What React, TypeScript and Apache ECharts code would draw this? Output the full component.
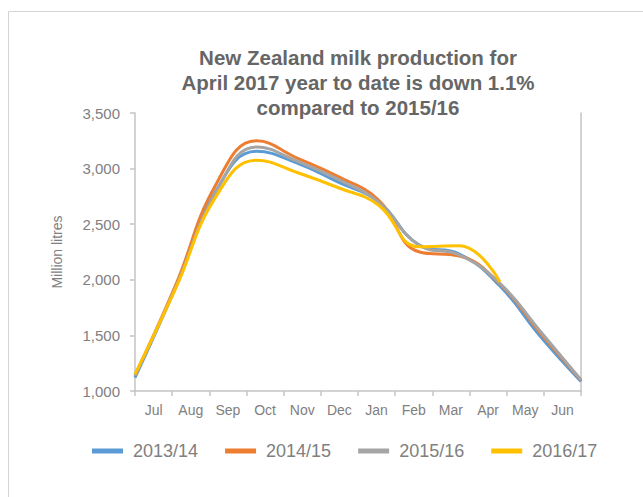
import React, { useEffect, useRef } from "react";
import * as echarts from "echarts";

const months = ["Jul", "Aug", "Sep", "Oct", "Nov", "Dec", "Jan", "Feb", "Mar", "Apr", "May", "Jun"];
const s2013 = [1120, 1930, 2800, 3155, 3050, 2880, 2705, 2315, 2232, 1944, 1490, 1085];
const s2014 = [1140, 1950, 2860, 3250, 3095, 2930, 2720, 2252, 2214, 1962, 1520, 1100];
const s2015 = [1140, 1930, 2790, 3195, 3068, 2905, 2700, 2313, 2223, 1968, 1535, 1100];
const s2016 = [1150, 1920, 2750, 3075, 2965, 2830, 2673, 2298, 2306, 1983];
const seriesNames = ["2013/14", "2014/15", "2015/16", "2016/17"];
const colors = ["#5B9BD5", "#ED7D31", "#A5A5A5", "#FFC000"];
const yTicks = { min: 1000, max: 3500, interval: 500 };
const titleLines = [
  "New Zealand milk production for",
  "April 2017 year to date is down 1.1%",
  "compared to 2015/16",
];

const FONT = "'Liberation Sans', Arial, Helvetica, sans-serif";
const AXIS_COLOR = "#c4c4c4";
const TEXT_COLOR = "#808080";

export default function App() {
  const ref = useRef<HTMLDivElement>(null);
  useEffect(() => {
    if (!ref.current) return;
    const chart = echarts.init(ref.current, null, { renderer: "svg" });
    const data = [s2013, s2014, s2015, s2016];
    chart.setOption({
      animation: false,
      color: colors,
      textStyle: { fontFamily: FONT },
      title: {
        text: titleLines.join("\n"),
        left: 358,
        top: 45,
        textAlign: "center",
        padding: 0,
        textStyle: {
          fontFamily: FONT,
          fontSize: 20.5,
          fontWeight: "bold",
          color: "#666666",
          lineHeight: 25,
        },
      },
      graphic: [
        {
          type: "rect",
          shape: { x: 8.5, y: 11.5, width: 700, height: 600 },
          style: { fill: "none", stroke: "#d4d4d4", lineWidth: 1 },
          silent: true,
          z: -10,
        },
      ],
      legend: {
        left: 92,
        top: 442,
        icon: "rect",
        itemWidth: 31,
        itemHeight: 5,
        itemGap: 27,
        padding: 0,
        data: seriesNames,
        textStyle: {
          fontFamily: FONT,
          fontSize: 18,
          color: TEXT_COLOR,
          padding: [0, 0, 0, 5],
        },
      },
      grid: { left: 135, right: 62, top: 113, bottom: 106, containLabel: false },
      xAxis: [
        {
          type: "category",
          data: months,
          boundaryGap: true,
          axisLine: { show: true, lineStyle: { color: AXIS_COLOR, width: 1.5 } },
          axisTick: { show: true, length: 5, lineStyle: { color: AXIS_COLOR, width: 1.5 } },
          axisLabel: { fontFamily: FONT, fontSize: 14, color: TEXT_COLOR, margin: 12 },
          splitLine: { show: false },
        },
        {
          type: "category",
          data: months,
          boundaryGap: false,
          show: false,
        },
      ],
      yAxis: [
        {
          type: "value",
          min: yTicks.min,
          max: yTicks.max,
          interval: yTicks.interval,
          name: "Million litres",
          nameLocation: "middle",
          nameGap: 71,
          nameTextStyle: { fontFamily: FONT, fontSize: 14, color: TEXT_COLOR },
          axisLine: { show: true, lineStyle: { color: AXIS_COLOR, width: 1.5 } },
          axisTick: { show: true, length: 5, lineStyle: { color: AXIS_COLOR, width: 1.5 } },
          axisLabel: {
            fontFamily: FONT,
            fontSize: 15,
            color: TEXT_COLOR,
            margin: 15,
            formatter: (v: number) => v.toLocaleString("en-US"),
          },
          splitLine: { show: false },
        },
        {
          type: "value",
          position: "right",
          min: yTicks.min,
          max: yTicks.max,
          interval: yTicks.interval,
          axisLine: { show: true, lineStyle: { color: AXIS_COLOR, width: 1.5 } },
          axisTick: { show: false },
          axisLabel: { show: false },
          splitLine: { show: false },
        },
      ],
      series: seriesNames.map((name, i) => ({
        name,
        type: "line",
        xAxisIndex: 1,
        yAxisIndex: 0,
        data: data[i],
        smooth: 0.45,
        symbol: "none",
        lineStyle: { width: 3, color: colors[i] },
        itemStyle: { color: colors[i] },
        z: 2 + i,
      })),
    });
    return () => chart.dispose();
  }, []);
  return (
    <div
      ref={ref}
      style={{ position: "absolute", left: 0, top: 0, width: 643, height: 497, background: "#fff" }}
    />
  );
}
